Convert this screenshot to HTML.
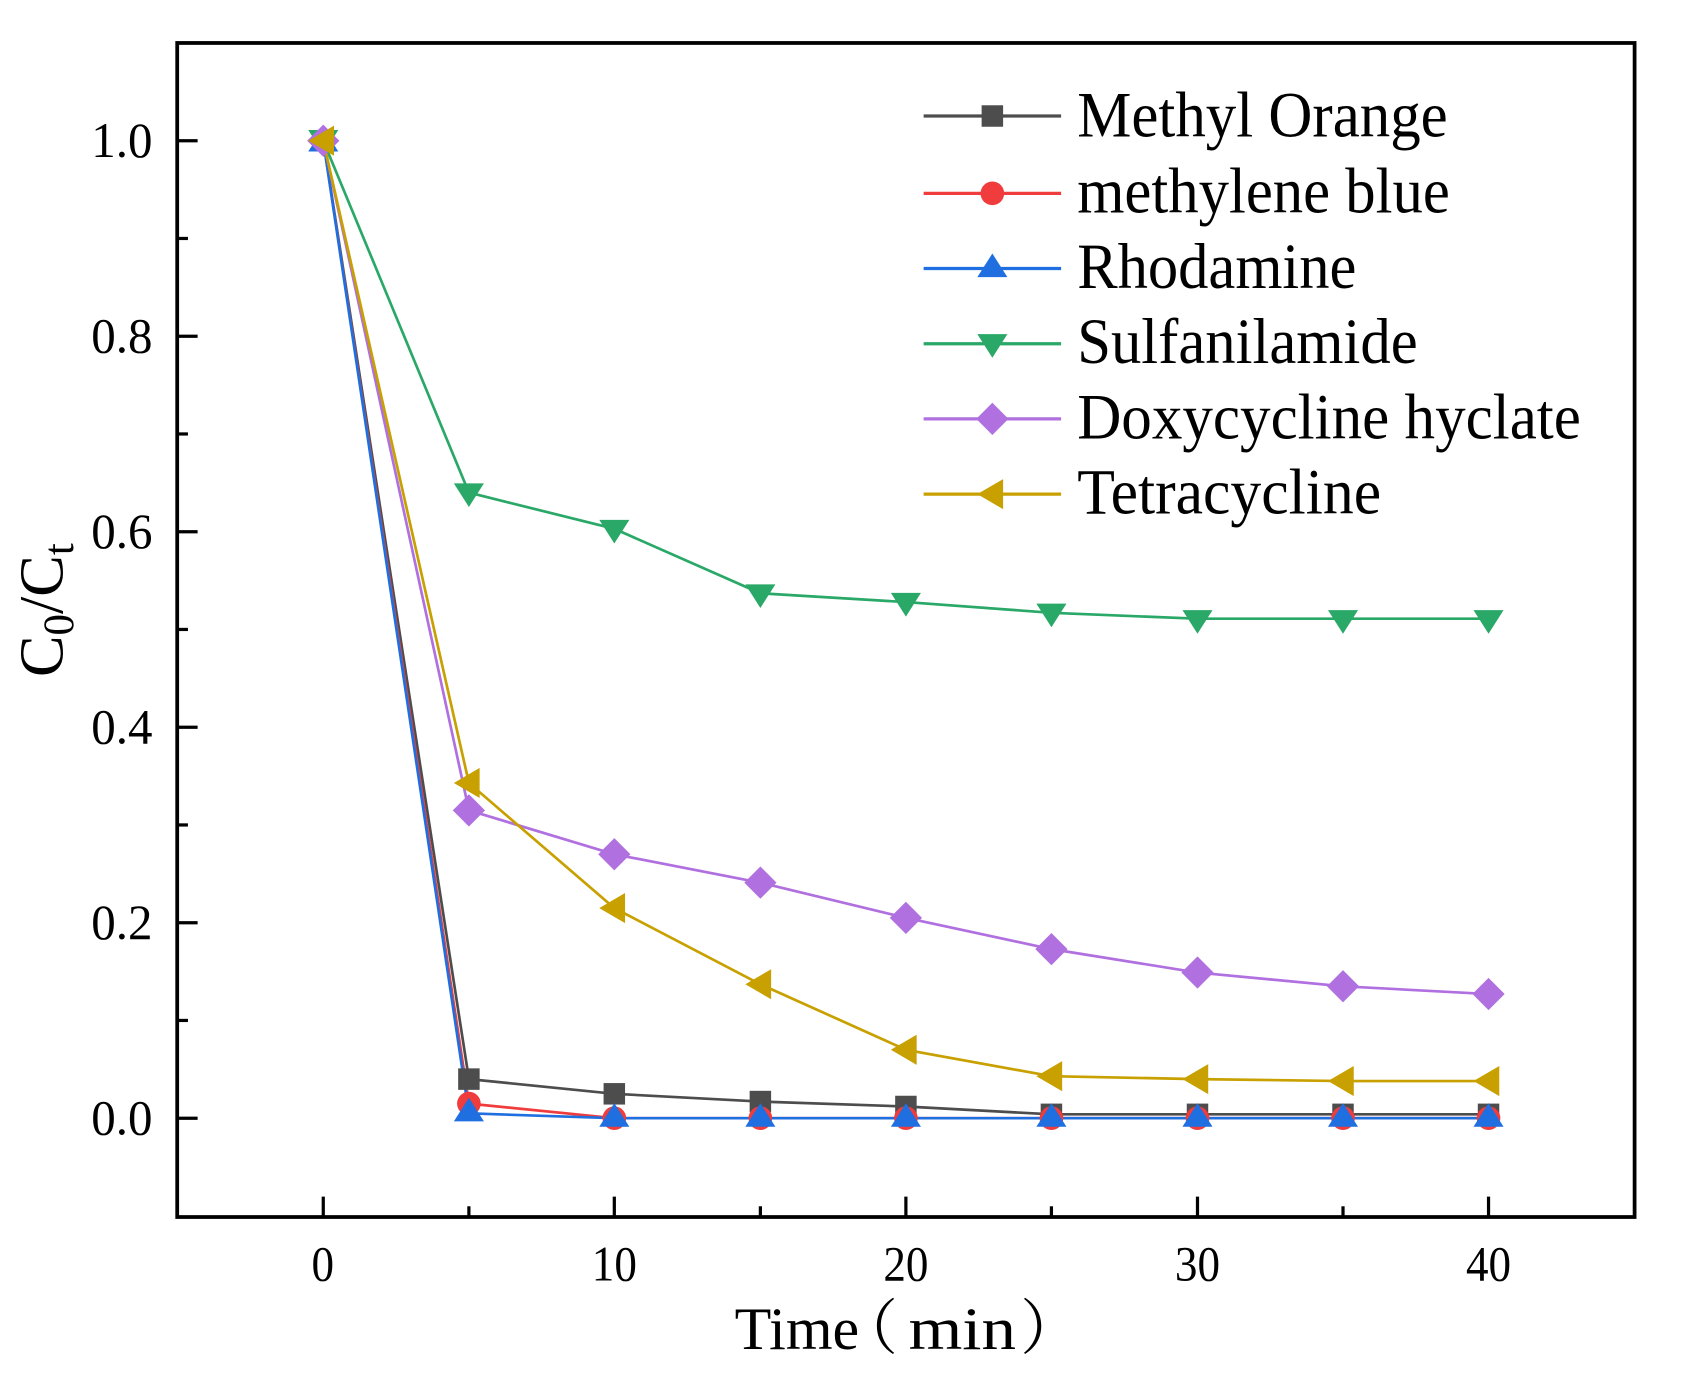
<!DOCTYPE html>
<html><head><style>html,body{margin:0;padding:0;background:#fff}svg{display:block}</style></head><body>
<svg width="1684" height="1376" viewBox="0 0 1568 1281" preserveAspectRatio="none" xmlns="http://www.w3.org/2000/svg" font-family="'Liberation Serif', 'Noto Serif CJK SC', serif">
<rect width="1568" height="1281" fill="#fff"/>
<defs>
<g id="sq"><rect x="-10" y="-10" width="20" height="20"/></g>
<g id="ci"><circle r="11"/></g>
<g id="tu"><polygon points="0,-12 14,10 -14,10"/></g>
<g id="td"><polygon points="0,12 14,-10 -14,-10"/></g>
<g id="di"><polygon points="0,-15 15,0 0,15 -15,0"/></g>
<g id="tl"><polygon points="-14,0 10,-14 10,14"/></g>
</defs>
<rect x="165" y="40" width="1357" height="1093" fill="none" stroke="#000" stroke-width="3.5"/>
<g stroke="#000" stroke-width="3">
<line x1="165" y1="1041" x2="184" y2="1041"/><line x1="165" y1="859" x2="184" y2="859"/><line x1="165" y1="677" x2="184" y2="677"/><line x1="165" y1="495" x2="184" y2="495"/><line x1="165" y1="313" x2="184" y2="313"/><line x1="165" y1="131" x2="184" y2="131"/>
<line x1="165" y1="950" x2="175" y2="950"/><line x1="165" y1="768" x2="175" y2="768"/><line x1="165" y1="586" x2="175" y2="586"/><line x1="165" y1="404" x2="175" y2="404"/><line x1="165" y1="222" x2="175" y2="222"/>
<line x1="301" y1="1133" x2="301" y2="1114"/><line x1="572" y1="1133" x2="572" y2="1114"/><line x1="843.5" y1="1133" x2="843.5" y2="1114"/><line x1="1115" y1="1133" x2="1115" y2="1114"/><line x1="1386" y1="1133" x2="1386" y2="1114"/>
<line x1="436.6" y1="1133" x2="436.6" y2="1123"/><line x1="708" y1="1133" x2="708" y2="1123"/><line x1="979" y1="1133" x2="979" y2="1123"/><line x1="1250.5" y1="1133" x2="1250.5" y2="1123"/>
</g>
<g font-size="46" text-anchor="end" fill="#000">
<text x="142" y="1056" textLength="57" lengthAdjust="spacingAndGlyphs">0.0</text><text x="142" y="874" textLength="57" lengthAdjust="spacingAndGlyphs">0.2</text><text x="142" y="692" textLength="57" lengthAdjust="spacingAndGlyphs">0.4</text><text x="142" y="510" textLength="57" lengthAdjust="spacingAndGlyphs">0.6</text><text x="142" y="328" textLength="57" lengthAdjust="spacingAndGlyphs">0.8</text><text x="142" y="146" textLength="57" lengthAdjust="spacingAndGlyphs">1.0</text>
</g>
<g font-size="46" fill="#000">
<text x="290" y="1192" textLength="21" lengthAdjust="spacingAndGlyphs">0</text><text x="551" y="1192" textLength="42" lengthAdjust="spacingAndGlyphs">10</text><text x="822.5" y="1192" textLength="42" lengthAdjust="spacingAndGlyphs">20</text><text x="1094" y="1192" textLength="42" lengthAdjust="spacingAndGlyphs">30</text><text x="1365" y="1192" textLength="42" lengthAdjust="spacingAndGlyphs">40</text>
</g>
<text x="684" y="1256" font-size="56" textLength="116" lengthAdjust="spacingAndGlyphs">Time</text>
<text x="780" y="1256" font-size="56">（</text>
<text x="846" y="1256" font-size="56" textLength="100" lengthAdjust="spacingAndGlyphs">min</text>
<text x="950" y="1256" font-size="56">）</text>
<text transform="translate(58,568) rotate(-90)" font-size="58" text-anchor="middle">C<tspan font-size="40" dy="10">0</tspan><tspan dy="-10">/C</tspan><tspan font-size="40" dy="10">t</tspan></text>
<g fill="none" stroke-width="2.5">
<polyline stroke="#4d4d4d" points="301,131 436.6,1004.6 572,1018.3 708,1025.5 843.5,1030.1 979,1037.4 1115,1037.4 1250.5,1037.4 1386,1037.4"/>
<polyline stroke="#f03c3c" points="301,131 436.6,1027.4 572,1041 708,1041 843.5,1041 979,1041 1115,1041 1250.5,1041 1386,1041"/>
<polyline stroke="#1f6fe0" points="301,131 436.6,1036.5 572,1041 708,1041 843.5,1041 979,1041 1115,1041 1250.5,1041 1386,1041"/>
<polyline stroke="#2aa868" points="301,131 436.6,458.6 572,492.3 708,552.3 843.5,560.5 979,570.5 1115,576 1250.5,576 1386,576"/>
<polyline stroke="#b070e0" points="301,131 436.6,754.4 572,795.3 708,821.7 843.5,854.5 979,883.6 1115,905.4 1250.5,918.2 1386,925.4"/>
<polyline stroke="#c8a000" points="301,131 436.6,728.9 572,845.4 708,916.3 843.5,977.3 979,1001.9 1115,1004.6 1250.5,1006.4 1386,1006.4"/>
</g>
<g fill="#4d4d4d"><use href="#sq" x="301" y="131"/><use href="#sq" x="436.6" y="1004.6"/><use href="#sq" x="572" y="1018.3"/><use href="#sq" x="708" y="1025.5"/><use href="#sq" x="843.5" y="1030.1"/><use href="#sq" x="979" y="1037.4"/><use href="#sq" x="1115" y="1037.4"/><use href="#sq" x="1250.5" y="1037.4"/><use href="#sq" x="1386" y="1037.4"/></g>
<g fill="#f03c3c"><use href="#ci" x="301" y="131"/><use href="#ci" x="436.6" y="1027.4"/><use href="#ci" x="572" y="1041"/><use href="#ci" x="708" y="1041"/><use href="#ci" x="843.5" y="1041"/><use href="#ci" x="979" y="1041"/><use href="#ci" x="1115" y="1041"/><use href="#ci" x="1250.5" y="1041"/><use href="#ci" x="1386" y="1041"/></g>
<g fill="#1f6fe0"><use href="#tu" x="301" y="131"/><use href="#tu" x="436.6" y="1034"/><use href="#tu" x="572" y="1039"/><use href="#tu" x="708" y="1039"/><use href="#tu" x="843.5" y="1039"/><use href="#tu" x="979" y="1039"/><use href="#tu" x="1115" y="1039"/><use href="#tu" x="1250.5" y="1039"/><use href="#tu" x="1386" y="1039"/></g>
<g fill="#2aa868"><use href="#td" x="301" y="131"/><use href="#td" x="436.6" y="460"/><use href="#td" x="572" y="494"/><use href="#td" x="708" y="554"/><use href="#td" x="843.5" y="562"/><use href="#td" x="979" y="572"/><use href="#td" x="1115" y="578"/><use href="#td" x="1250.5" y="578"/><use href="#td" x="1386" y="578"/></g>
<g fill="#b070e0"><use href="#di" x="301" y="131"/><use href="#di" x="436.6" y="754.4"/><use href="#di" x="572" y="795.3"/><use href="#di" x="708" y="821.7"/><use href="#di" x="843.5" y="854.5"/><use href="#di" x="979" y="883.6"/><use href="#di" x="1115" y="905.4"/><use href="#di" x="1250.5" y="918.2"/><use href="#di" x="1386" y="925.4"/></g>
<g fill="#c8a000"><use href="#tl" x="301" y="131"/><use href="#tl" x="436.6" y="728.9"/><use href="#tl" x="572" y="845.4"/><use href="#tl" x="708" y="916.3"/><use href="#tl" x="843.5" y="977.3"/><use href="#tl" x="979" y="1001.9"/><use href="#tl" x="1115" y="1004.6"/><use href="#tl" x="1250.5" y="1006.4"/><use href="#tl" x="1386" y="1006.4"/></g>
<g stroke-width="3">
<line x1="860" y1="108" x2="988" y2="108" stroke="#4d4d4d"/><use href="#sq" x="924" y="108" fill="#4d4d4d"/>
<line x1="860" y1="180" x2="988" y2="180" stroke="#f03c3c"/><use href="#ci" x="924" y="180" fill="#f03c3c"/>
<line x1="860" y1="250" x2="988" y2="250" stroke="#1f6fe0"/><use href="#tu" x="924" y="248" fill="#1f6fe0"/>
<line x1="860" y1="320" x2="988" y2="320" stroke="#2aa868"/><use href="#td" x="924" y="321" fill="#2aa868"/>
<line x1="860" y1="390" x2="988" y2="390" stroke="#b070e0"/><use href="#di" x="924" y="390" fill="#b070e0"/>
<line x1="860" y1="460" x2="988" y2="460" stroke="#c8a000"/><use href="#tl" x="924" y="460" fill="#c8a000"/>
</g>
<g font-size="60" fill="#000">
<text x="1003" y="127" textLength="345" lengthAdjust="spacingAndGlyphs">Methyl Orange</text>
<text x="1003" y="198" textLength="347" lengthAdjust="spacingAndGlyphs">methylene blue</text>
<text x="1003" y="268" textLength="260" lengthAdjust="spacingAndGlyphs">Rhodamine</text>
<text x="1003" y="338" textLength="317" lengthAdjust="spacingAndGlyphs">Sulfanilamide</text>
<text x="1003" y="408" textLength="469" lengthAdjust="spacingAndGlyphs">Doxycycline hyclate</text>
<text x="1003" y="478" textLength="283" lengthAdjust="spacingAndGlyphs">Tetracycline</text>
</g>
</svg>
</body></html>
